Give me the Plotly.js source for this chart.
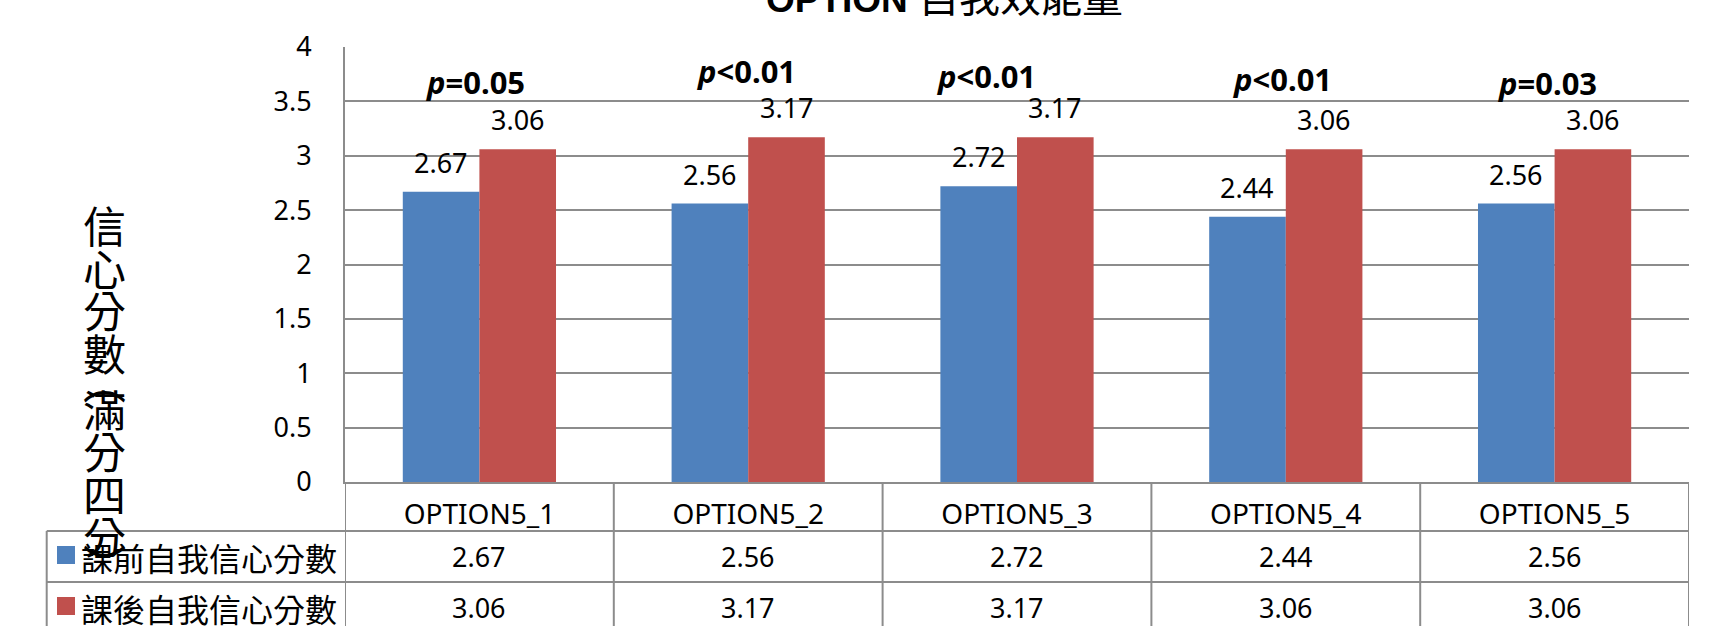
<!DOCTYPE html>
<html><head><meta charset="utf-8">
<script src="https://cdn.plot.ly/plotly-3.0.1.min.js"></script>
<style>html,body{margin:0;padding:0;background:#fff}#chart{width:1718px;height:626px}</style>
</head><body><div id="chart"></div>
<script>
// ---- data ----
const categories = ['OPTION5_1', 'OPTION5_2', 'OPTION5_3', 'OPTION5_4', 'OPTION5_5'];
const seriesNames = ['課前自我信心分數', '課後自我信心分數'];
const preScores = [2.67, 2.56, 2.72, 2.44, 2.56];
const postScores = [3.06, 3.17, 3.17, 3.06, 3.06];
const pLabels = ['<i>p</i>=0.05', '<i>p</i>&lt;0.01', '<i>p</i>&lt;0.01', '<i>p</i>&lt;0.01', '<i>p</i>=0.03'];
const yTickVals = [0, 0.5, 1, 1.5, 2, 2.5, 3, 3.5, 4];
const titleLatin = 'OPTION';
const titleCJK = '自我效能量';
const yTitleChars = ['信', '心', '分', '數', '︵', '滿', '分', '四', '分', '︶'];

// ---- layout geometry (pixels) ----
const W = 1718, H = 626;
const M = {l: 345, r: 29, t: 47, b: 144};
const plotW = W - M.l - M.r, plotH = H - M.t - M.b;
const pxX = x => (x - M.l) / plotW;
const pxY = y => (H - M.b - y) / plotH;
const colors = ['#4F81BD', '#C0504D'];
const lineCol = '#8c8c8c';
const bargap = 0.43;
const numFont = {family: 'Noto Sans, sans-serif', size: 27, color: '#000'};
const cjkFont = {family: 'Noto Sans CJK TC, sans-serif', size: 32, color: '#000'};

const series = [preScores, postScores];
const traces = series.map((vals, k) => ({
  type: 'bar', x: categories, y: vals, name: seriesNames[k],
  marker: {color: colors[k], line: {width: 0}},
  hoverinfo: 'skip'
}));

const annotations = [];
const shapes = [];
const halfBar = (plotW / categories.length) * (1 - bargap) / 4;

// data labels above bars
series.forEach((vals, k) => {
  vals.forEach((v, i) => {
    annotations.push({
      xref: 'x', yref: 'y', x: categories[i], y: v,
      xshift: (k === 0 ? -1 : 1) * halfBar, yshift: 9,
      xanchor: 'center', yanchor: 'bottom', showarrow: false,
      text: v.toFixed(2), font: numFont
    });
  });
});

// p-value labels
const pOffsetX = [-4, -2, -31, -4, -8];
const pBaseline = [92.5, 82, 87.5, 90, 93.5];
pLabels.forEach((t, i) => {
  annotations.push({
    xref: 'x', yref: 'paper', x: categories[i], y: pxY(pBaseline[i] - 11),
    xshift: pOffsetX[i], xanchor: 'center', yanchor: 'middle', showarrow: false,
    text: '<b>' + t + '</b>', font: {family: 'Noto Sans, sans-serif', size: 31, color: '#000'}
  });
});

// data table values
const rowCenters = [556.5, 607.5];
series.forEach((vals, k) => {
  vals.forEach((v, i) => {
    annotations.push({
      xref: 'x', yref: 'paper', x: categories[i], y: pxY(rowCenters[k]),
      xanchor: 'center', yanchor: 'middle', showarrow: false,
      text: v.toFixed(2), font: numFont
    });
  });
  // legend key text
  annotations.push({
    xref: 'paper', yref: 'paper', x: pxX(79), y: pxY(rowCenters[k]),
    xanchor: 'left', yanchor: 'middle', showarrow: false,
    text: seriesNames[k], font: cjkFont
  });
  // legend key square
  const cy = rowCenters[k] - 1.5;
  shapes.push({
    type: 'rect', xref: 'paper', yref: 'paper', layer: 'above',
    x0: pxX(57), x1: pxX(75), y0: pxY(cy - 9), y1: pxY(cy + 9),
    fillcolor: colors[k], line: {width: 0}
  });
});

// table lines
const tblLeft = 46.7, tblBottom = 640;
[531, 582].forEach(y => shapes.push({
  type: 'line', xref: 'paper', yref: 'paper', x0: pxX(tblLeft), x1: 1, y0: pxY(y), y1: pxY(y),
  line: {color: lineCol, width: 2}
}));
shapes.push({type: 'line', xref: 'paper', yref: 'paper', x0: pxX(tblLeft), x1: pxX(tblLeft),
  y0: pxY(531), y1: pxY(tblBottom), line: {color: lineCol, width: 2}});
for (let i = 0; i <= categories.length; i++) {
  shapes.push({type: 'line', xref: 'x', yref: 'paper', x0: i - 0.5, x1: i - 0.5,
    y0: 0, y1: pxY(tblBottom), line: {color: lineCol, width: 2}});
}

// chart title (partly cut at the top, as in the reference)
annotations.push({
  xref: 'paper', yref: 'paper', x: pxX(944), y: pxY(-2),
  xanchor: 'center', yanchor: 'middle', showarrow: false,
  text: '<b>' + titleLatin + '</b> <span style="font-size:41px">' + titleCJK + '</span>',
  font: {family: 'Liberation Sans, Noto Sans CJK TC, sans-serif', size: 37, color: '#000'}
});

// vertical y-axis title, stacked characters
let yy = 224;
yTitleChars.forEach((c, i) => {
  annotations.push({
    xref: 'paper', yref: 'paper', x: pxX(104), y: pxY(yy),
    xanchor: 'center', yanchor: 'middle', showarrow: false,
    text: c, font: {family: 'Noto Sans CJK TC, sans-serif', size: 43, color: '#000'}
  });
  const next = yTitleChars[i + 1];
  const isParen = s => s === '︵' || s === '︶';
  yy += (isParen(c) || isParen(next)) ? 28 : 42.5;
});

const layout = {
  width: W, height: H,
  margin: M,
  paper_bgcolor: '#fff', plot_bgcolor: '#fff',
  barmode: 'group', bargap: bargap, bargroupgap: 0,
  showlegend: false,
  font: numFont,
  xaxis: {
    type: 'category', range: [-0.5, categories.length - 0.5],
    showline: true, linecolor: lineCol, linewidth: 2,
    showgrid: false, zeroline: false,
    ticks: 'outside', ticklen: 6, tickcolor: 'rgba(0,0,0,0)',
    tickfont: {family: 'Noto Sans, sans-serif', size: 28, color: '#000'}, fixedrange: true
  },
  yaxis: {
    range: [0, 4], tickvals: yTickVals,
    showline: true, linecolor: lineCol, linewidth: 2,
    showgrid: true, gridcolor: lineCol, gridwidth: 2,
    zeroline: false,
    ticks: 'outside', ticklen: 26, tickcolor: 'rgba(0,0,0,0)',
    tickfont: numFont, fixedrange: true
  },
  annotations: annotations,
  shapes: shapes
};

Plotly.newPlot('chart', traces, layout, {displayModeBar: false, staticPlot: true});
</script>
</body></html>
